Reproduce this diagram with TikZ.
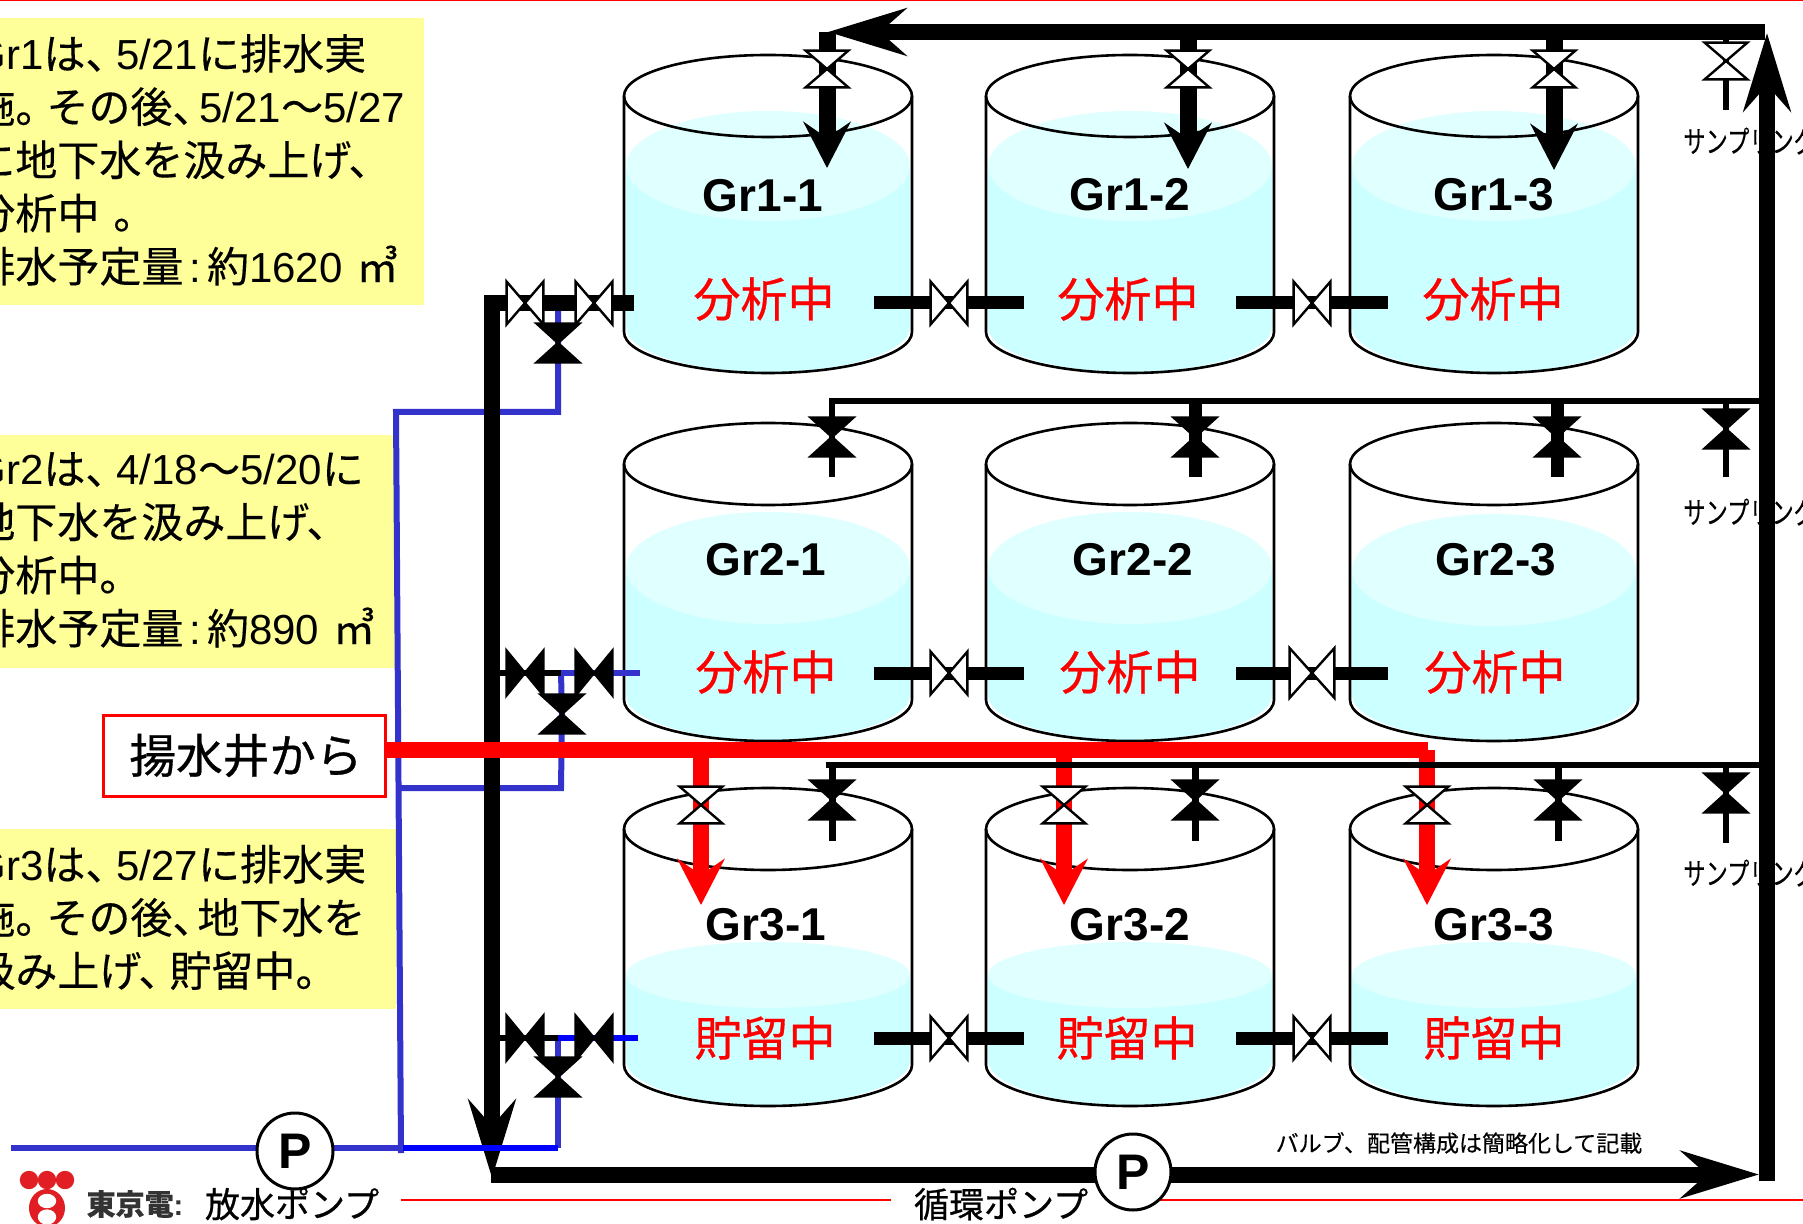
\documentclass[tikz,border=0pt]{standalone}
\usepackage{fontspec}
\setmainfont{Noto Sans CJK JP}[FakeBold=0.25]
\newfontfamily\en{Liberation Sans}
\newfontfamily\jpheavy{Noto Sans CJK JP}[FakeBold=0.7]
\usetikzlibrary{arrows.meta}
\definecolor{noteyellow}{RGB}{255,255,153}
\definecolor{waterbody}{RGB}{204,255,255}
\definecolor{watertop}{RGB}{224,255,255}
\definecolor{drainblue}{RGB}{51,51,204}
\definecolor{tepcored}{RGB}{225,30,35}
\newcommand{\tou}{、\kern-5.5pt}
\newcommand{\kuten}{。\kern-5.5pt}
\newcommand{\cln}{\kern3pt{\en:}\kern3pt}
\pgfdeclarelayer{tanklayer}
\pgfdeclarelayer{pipelayer}
\pgfsetlayers{tanklayer,pipelayer,main}
\tikzset{
  pics/tank/.style 2 args={code={
    \fill[waterbody] (-142,#1) -- (-142,231) arc[start angle=180,end angle=360,x radius=71pt,y radius=22.5pt] -- (142,#1) -- cycle;
    \fill[watertop] (0,#1) ellipse[x radius=71pt,y radius=#2pt];
    \draw[line width=1.3pt] (-144,0) -- (-144,236) arc[start angle=180,end angle=360,x radius=72pt,y radius=20.5pt] -- (144,0);
    \draw[line width=1.3pt] (0,0) ellipse[x radius=72pt,y radius=20.5pt];
  }}
}
\begin{document}
\begin{tikzpicture}[
  x=0.5pt, y=-0.5pt,
  note/.style 2 args={fill=noteyellow, anchor=north west, inner xsep=0pt, inner ysep=0pt,
              text width=#1, minimum height=#2, align=left,
              execute at end node={\vspace{2pt}},
              font=\fontsize{21}{26.6}\selectfont},
  grname/.style={font=\en\bfseries\fontsize{23}{26}\selectfont, inner sep=0pt},
  state/.style={text=red, font=\jpheavy\fontsize{23.5}{26}\selectfont, inner sep=0pt},
  samplabel/.style={anchor=west, inner sep=0pt, font=\fontsize{15}{17}\selectfont},
  footlabel/.style={inner sep=0pt, font=\jpheavy\fontsize{17.5}{20}\selectfont},
  pump/.style={draw, circle, fill=white, line width=1.5pt, minimum size=38pt, inner sep=0pt,
               font=\en\bfseries\fontsize{25}{28}\selectfont},
  hourglass/.style n args={3}{inner sep=0pt, minimum width=#2, minimum height=#3,
     append after command={\pgfextra{\let\vlast\tikzlastnode
       \draw[line width=1.2pt, fill=#1] (\vlast.north west) -- (\vlast.south east) -- (\vlast.south west) -- (\vlast.north east) -- cycle;}}},
  bowtie/.style n args={3}{inner sep=0pt, minimum width=#2, minimum height=#3,
     append after command={\pgfextra{\let\vlast\tikzlastnode
       \draw[line width=1.2pt, fill=#1] (\vlast.north west) -- (\vlast.south west) -- (\vlast.north east) -- (\vlast.south east) -- cycle;}}},
  openv/.style={hourglass={white}{21pt}{18pt}},
  shutv/.style={hourglass={black}{21pt}{19pt}},
  openh/.style={bowtie={white}{18pt}{21pt}},
  shuth/.style={bowtie={black}{18pt}{22pt}},
  mainpipe/.style={line width=8pt},
  linkpipe/.style={line width=6.5pt},
  thinpipe/.style={line width=3.2pt},
  drain/.style={line width=3pt, drainblue},
  drainbright/.style={line width=3pt, blue},
  redpipe/.style={line width=8.3pt, red},
  bigarrow/.style={-{Stealth[length=39pt,width=23.5pt,inset=13pt]}},
  smallarrow/.style={-{Stealth[length=23pt,width=23.5pt,inset=8pt]}}]
  \useasboundingbox (0,0) rectangle (1803,1224);

  \begin{pgfonlayer}{tanklayer}
    \draw[red, line width=1pt] (0,0.5) -- (1803,0.5);
    \draw[red, line width=1.4pt] (401,1200) -- (891,1200);
    \draw[red, line width=1.4pt] (1160,1200) -- (1803,1200);
    \node[note={225.5pt}{143.5pt}] (note1) at (-27,18) {{\en Gr1}は\tou{\en 5/21}に排水実\\施\kuten その後\tou\kern-2pt{\en 5/21}～{\en 5/27}\\に地下水を汲み上げ、\\分析中{\en\ }。\\排水予定量\cln 約{\en 1620 }㎥};
    \node[note={211pt}{116.5pt}] (note2) at (-27,435) {{\en Gr2}は\tou{\en 4/18}～{\en 5/20}に\\地下水を汲み上げ、\\分析中。\\排水予定量\cln 約{\en 890 }㎥};
    \node[note={211.5pt}{90pt}] (note3) at (-27,829) {{\en Gr3}は\tou{\en 5/27}に排水実\\施\kuten その後\tou\kern-3pt 地下水を\\汲み上げ\tou 貯留中。};
    \pic at (768,96) {tank={70}{27.5}};
    \pic at (1130,96) {tank={70}{27.5}};
    \pic at (1494,96) {tank={70}{27.5}};
    \pic at (768,464) {tank={104}{28}};
    \pic at (1130,464) {tank={104}{28}};
    \pic at (1494,464) {tank={106}{28}};
    \pic at (768,829) {tank={146}{16.5}};
    \pic at (1130,829) {tank={146}{16.5}};
    \pic at (1494,829) {tank={146}{16.5}};
    \node[samplabel] (samp1) at (1683,141) {\scalebox{.74}[1]{サンプリング}};
    \node[samplabel] (samp2) at (1683,512) {\scalebox{.74}[1]{サンプリング}};
    \node[samplabel] (samp3) at (1683,873) {\scalebox{.74}[1]{サンプリング}};
  \end{pgfonlayer}

  \node[grname] (g11) at (763,196) {Gr1-1};
  \node[grname] (g12) at (1130,195) {Gr1-2};
  \node[grname] (g13) at (1494,195) {Gr1-3};
  \node[grname] (g21) at (766,560) {Gr2-1};
  \node[grname] (g22) at (1133,560) {Gr2-2};
  \node[grname] (g23) at (1496,560) {Gr2-3};
  \node[grname] (g31) at (766,925) {Gr3-1};
  \node[grname] (g32) at (1130,925) {Gr3-2};
  \node[grname] (g33) at (1494,925) {Gr3-3};
  \node[state] (s11) at (764,299) {分析中};
  \node[state] (s12) at (1128,299) {分析中};
  \node[state] (s13) at (1493,299) {分析中};
  \node[state] (s21) at (766,672) {分析中};
  \node[state] (s22) at (1130,672) {分析中};
  \node[state] (s23) at (1495,672) {分析中};
  \node[state] (s31) at (765,1038) {貯留中};
  \node[state] (s32) at (1127,1038) {貯留中};
  \node[state] (s33) at (1494,1038) {貯留中};

  \node[draw=red, fill=white, line width=1.5pt, minimum width=141pt, minimum height=40.5pt, inner sep=0pt,
        font=\jpheavy\fontsize{23.3}{25}\selectfont] (well) at (244,755.5) {\kern2pt 揚水井から};
  \node[pump] (pumpA) at (295,1151) {P};
  \node[pump] (pumpB) at (1133,1172) {P};
  \node[footlabel] (lbA) at (292,1204) {放水ポンプ};
  \node[footlabel] (lbB) at (1001,1204) {循環ポンプ};
  \node[inner sep=0pt, text=black!80, font=\bfseries\fontsize{14.5}{16}\selectfont] (tepco) at (135,1204) {東京電{\en:}};
  \node[inner sep=0pt, font=\fontsize{11.5}{13}\selectfont] (memo) at (1459,1143) {バルブ、配管構成は簡略化して記載};
  \fill[tepcored] (29,1180) circle[radius=4.6pt] (47,1180) circle[radius=4.6pt] (65,1180) circle[radius=4.6pt];
  \fill[tepcored] (47,1208) ellipse[x radius=9pt, y radius=9.5pt];
  \fill[white] (47,1201) ellipse[x radius=4.6pt, y radius=3.6pt] (47,1217) ellipse[x radius=4.6pt, y radius=3.8pt];

  \node[openh] (v1a) at (525,303) {};
  \node[openh] (v1b) at (594,303) {};
  \node[shutv] (v1c) at (558,343) {};
  \node[shuth] (v2a) at (525,673) {};
  \node[shuth] (v2b) at (594,673) {};
  \node[shutv] (v2c) at (562,714) {};
  \node[shuth] (v3a) at (525,1038) {};
  \node[shuth] (v3b) at (594,1038) {};
  \node[shutv] (v3c) at (558,1077) {};
  \node[openh] (l11) at (949,303) {};
  \node[openh] (l12) at (1312,303) {};
  \node[openh] (l21) at (949,673) {};
  \node[bowtie={white}{22pt}{24.5pt}] (l22) at (1312,673) {};
  \node[openh] (l31) at (949,1038) {};
  \node[openh] (l32) at (1312,1038) {};
  \node[openv] (u11) at (827,69) {};
  \node[openv] (u12) at (1188,69) {};
  \node[openv] (u13) at (1554,69) {};
  \node[openv] (us1) at (1726,61) {};
  \node[shutv] (u21) at (832,437) {};
  \node[shutv] (u22) at (1195,437) {};
  \node[shutv] (u23) at (1557,437) {};
  \node[shutv] (us2) at (1726,429) {};
  \node[shutv] (u31) at (832,800) {};
  \node[shutv] (u32) at (1195,800) {};
  \node[shutv] (u33) at (1558,800) {};
  \node[shutv] (us3) at (1726,793) {};
  \node[openv] (f1) at (701,805) {};
  \node[openv] (f2) at (1064,805) {};
  \node[openv] (f3) at (1427,805) {};

  \coordinate (top1r) at (1765,32);
  \coordinate (top1l) at (828,32);
  \coordinate (top2r) at (1760,401);
  \coordinate (top2l) at (829,401);
  \coordinate (top3r) at (1760,765);
  \coordinate (top3l) at (826,765);
  \coordinate (rightb) at (1767,1181);
  \coordinate (rightt) at (1767,33);
  \coordinate (leftt) at (492,303);
  \coordinate (leftb) at (492,1178);
  \coordinate (botl) at (491,1174.5);
  \coordinate (botr) at (1759,1174.5);
  \coordinate (man1) at (634,303);
  \coordinate (man2) at (640,673);
  \coordinate (man3) at (638,1038);
  \coordinate (tee2) at (561,673);
  \coordinate (tee3) at (558,1038);
  \coordinate (tee1) at (558,303);
  \coordinate (col1) at (396,412);
  \coordinate (col2) at (398,788);
  \coordinate (col3) at (401,1153);
  \coordinate (dis0) at (11,1148);
  \coordinate (dis1) at (403,1148);
  \coordinate (dis2) at (558,1148);
  \coordinate (redend) at (1427.5,750);

  \begin{pgfonlayer}{pipelayer}
    \draw[drain] (tee1) -- (v1c.center) |- (col1) -- (col3);
    \draw[drain] (tee2) -- (v2c.center) -- (tee2 |- col2) -- (col2);
    \draw[drain] (tee2) -- (man2);
    \draw[drain] (dis0) -- (dis1);
    \draw[drain] (tee3) -- (v3c.center) -- (dis2);

    \draw[thinpipe] (leftt |- v2a) -- (v2a.center) -- (tee2);
    \draw[thinpipe] (leftt |- v3a) -- (v3a.center) -- (tee3);
    \draw[mainpipe, bigarrow] (man1) -- (v1b.center) -- (v1a.center) -- (leftt) -- (leftb);
    \draw[mainpipe, bigarrow] (top1r) -- (top1l);
    \draw[mainpipe, bigarrow] (botl) -- (botr);
    \draw[mainpipe, bigarrow] (rightb) -- (rightt);
    \draw[mainpipe, line width=8.5pt, smallarrow] (u11 |- top1l) -- (u11.center) -- ++(0,99);
    \draw[mainpipe, line width=8.5pt, smallarrow] (u12 |- top1l) -- (u12.center) -- ++(0,100);
    \draw[mainpipe, line width=8.5pt, smallarrow] (u13 |- top1l) -- (u13.center) -- ++(0,101);
    \draw[line width=3pt] (us1 |- top1r) -- (us1.center) -- ++(0,49);
    \draw[linkpipe] (l11) ++(-75,0) -- ++(150,0);
    \draw[linkpipe] (l12) ++(-76,0) -- ++(152,0);
    \draw[linkpipe] (l21) ++(-75,0) -- ++(150,0);
    \draw[linkpipe] (l22) ++(-76,0) -- ++(152,0);
    \draw[linkpipe] (l31) ++(-75,0) -- ++(150,0);
    \draw[linkpipe] (l32) ++(-76,0) -- ++(152,0);
    \draw[thinpipe] (top2r) -- (top2l);
    \draw[line width=3.3pt] (u21 |- top2l) -- (u21.center) -- ++(0,40);
    \draw[linkpipe] (u22 |- top2l) -- (u22.center) -- ++(0,40);
    \draw[linkpipe] (u23 |- top2l) -- (u23.center) -- ++(0,40);
    \draw[line width=3pt] (us2 |- top2r) -- (us2.center) -- ++(0,48);

    \draw[drainbright] (dis1) -- (dis2);
    \draw[drainbright] (tee3) -- (man3);

    \draw[redpipe] (well.east |- redend) -- (redend);
    \draw[redpipe, smallarrow] (f1 |- redend) -- (f1.center) -- ++(0,100);
    \draw[redpipe, smallarrow] (f2 |- redend) -- (f2.center) -- ++(0,100);
    \draw[redpipe, smallarrow] (f3 |- redend) -- (f3.center) -- ++(0,100);

    \draw[thinpipe] (top3r) -- (top3l);
    \draw[line width=3.5pt] (u31 |- top3l) -- (u31.center) -- ++(0,41);
    \draw[line width=3.5pt] (u32 |- top3l) -- (u32.center) -- ++(0,41);
    \draw[line width=3.5pt] (u33 |- top3l) -- (u33.center) -- ++(0,41);
    \draw[line width=3pt] (us3 |- top3r) -- (us3.center) -- ++(0,50);
  \end{pgfonlayer}
\end{tikzpicture}
\end{document}
